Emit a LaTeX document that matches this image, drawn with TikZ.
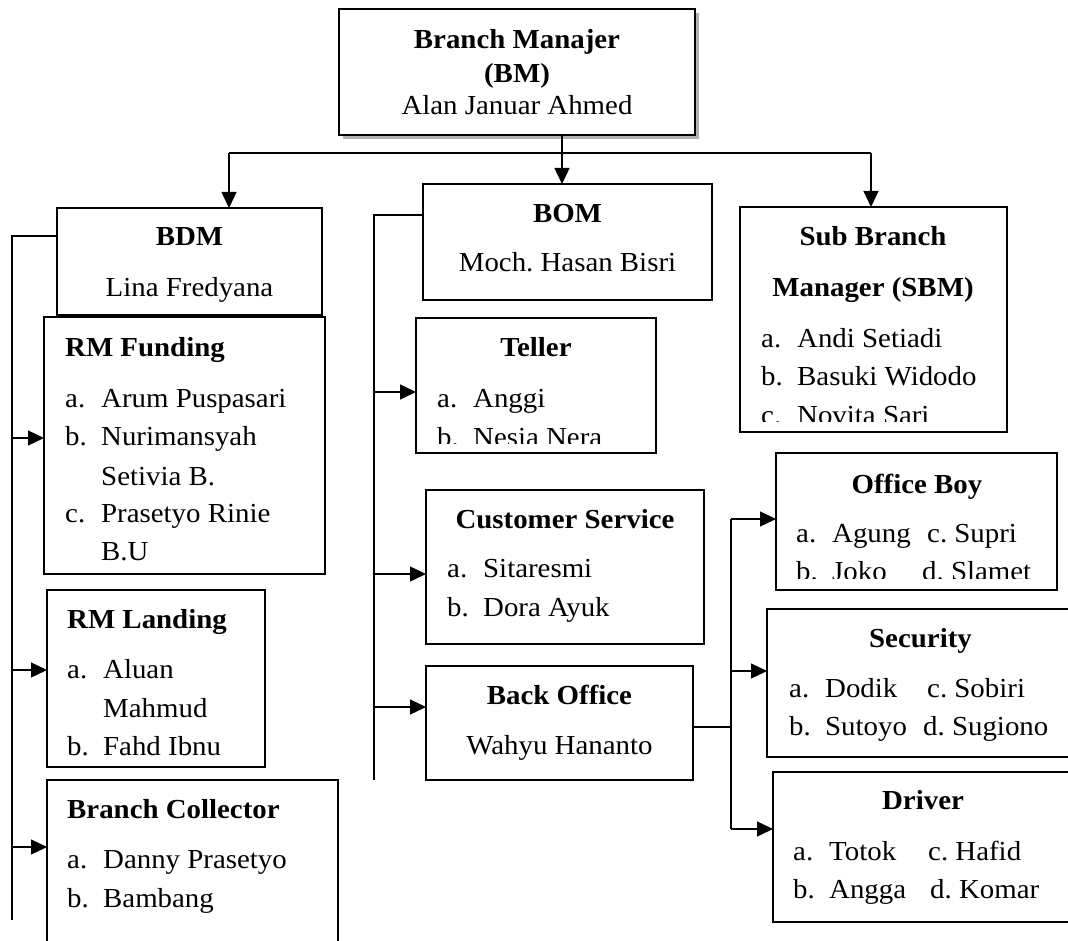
\documentclass[tikz,border=0pt]{standalone}
\usepackage{fontspec}
\setmainfont{Liberation Serif}[FakeStretch=1.05]
\usetikzlibrary{arrows.meta,shadows}
\newcommand{\lab}[1]{\makebox[36pt][l]{#1}}
\frenchspacing
\tikzset{
  box/.style={draw, line width=1.3pt, fill=white, anchor=north west, inner sep=0pt, outer sep=0pt},
  conn/.style={line width=1.3pt},
  arr/.style={line width=1.3pt, -{Triangle[length=16pt,width=15pt]}},
  ttl/.style={anchor=base, inner sep=0pt, font=\fontsize{27.5}{33}\selectfont\bfseries},
  tl/.style={anchor=base west, inner sep=0pt, font=\fontsize{27.5}{33}\selectfont\bfseries},
  tx/.style={anchor=base west, inner sep=0pt, font=\fontsize{27.5}{33}\selectfont},
  txc/.style={anchor=base, inner sep=0pt, font=\fontsize{27.5}{33}\selectfont},
}
\begin{document}
\begin{tikzpicture}[x=1pt,y=-1pt]
\useasboundingbox (0,0) rectangle (1068,941);
% boxes
\node[box, minimum width=356pt, minimum height=126pt,
      drop shadow={shadow xshift=4pt, shadow yshift=-4pt, fill=gray!60, opacity=1}] (bm) at (339,9) {};
\node[box, minimum width=265pt, minimum height=107pt] (bdm) at (57,208) {};
\node[box, minimum width=281pt, minimum height=257pt] (rmf) at (44,317) {};
\node[box, minimum width=218pt, minimum height=177pt] (rml) at (47,590) {};
\node[box, minimum width=291pt, minimum height=185pt] (bc) at (47,780) {};
\node[box, minimum width=289pt, minimum height=116pt] (bom) at (423,184) {};
\node[box, minimum width=240pt, minimum height=135pt] (tel) at (416,318) {};
\node[box, minimum width=267pt, minimum height=225pt] (sbm) at (740,207) {};
\node[box, minimum width=278pt, minimum height=154pt] (cs) at (426,490) {};
\node[box, minimum width=267pt, minimum height=114pt] (bo) at (426,666) {};
\node[box, minimum width=281pt, minimum height=137pt] (ob) at (776,453) {};
\node[box, minimum width=307pt, minimum height=148pt] (sec) at (767,609) {};
\node[box, minimum width=300pt, minimum height=150pt] (drv) at (773,772) {};

% texts
\node[ttl] (bm1) at (517,49) {Branch Manajer};
\node[ttl] (bm2) at (517,83) {(BM)};
\node[txc] (bm3) at (517,115) {Alan Januar Ahmed};

\node[ttl] (bd1) at (189.5,246) {BDM};
\node[txc] (bd2) at (189.5,297) {Lina Fredyana};

\node[tl] (rf0) at (65,356) {RM Funding};
\node[tx] (rf1) at (65,407) {\lab{a.}Arum Puspasari};
\node[tx] (rf2) at (65,445) {\lab{b.}Nurimansyah};
\node[tx] (rf3) at (101,485) {Setivia B.};
\node[tx] (rf4) at (65,522) {\lab{c.}Prasetyo Rinie};
\node[tx] (rf5) at (101,560) {B.U};

\node[tl] (rl0) at (67,628) {RM Landing};
\node[tx] (rl1) at (67,678) {\lab{a.}Aluan};
\node[tx] (rl2) at (103,717) {Mahmud};
\node[tx] (rl3) at (67,755) {\lab{b.}Fahd Ibnu};

\node[tl] (bc0) at (67,818) {Branch Collector};
\node[tx] (bc1) at (67,868) {\lab{a.}Danny Prasetyo};
\node[tx] (bc2) at (67,907) {\lab{b.}Bambang};

\node[ttl] (bo1) at (567.5,223) {BOM};
\node[txc] (bo2) at (567.5,272) {Moch. Hasan Bisri};

\node[ttl] (te0) at (536,356) {Teller};
\node[tx] (te1) at (437,407) {\lab{a.}Anggi};
\begin{scope}
\clip (416,410) rectangle (656,443);
\node[tx] (te2) at (437,446) {\lab{b.}Nesia Nera};
\end{scope}

\node[ttl] (sb0) at (873,246) {Sub Branch};
\node[ttl] (sb1) at (873,297) {Manager (SBM)};
\node[tx] (sb2) at (761,347) {\lab{a.}Andi Setiadi};
\node[tx] (sb3) at (761,385) {\lab{b.}Basuki Widodo};
\begin{scope}
\clip (740,390) rectangle (1007,421);
\node[tx] (sb4) at (761,424) {\lab{c.}Novita Sari};
\end{scope}

\node[ttl] (cs0) at (565,528) {Customer Service};
\node[tx] (cs1) at (447,577) {\lab{a.}Sitaresmi};
\node[tx] (cs2) at (447,616) {\lab{b.}Dora Ayuk};

\node[ttl] (bk0) at (559.5,704) {Back Office};
\node[txc] (bk1) at (559.5,754) {Wahyu Hananto};

\node[ttl] (ob0) at (917,493) {Office Boy};
\node[tx] (ob1) at (796,542) {\lab{a.}Agung};
\node[tx] (ob2) at (927,542) {c. Supri};
\begin{scope}
\clip (776,548) rectangle (1057,578);
\node[tx] (ob3) at (796,580) {\lab{b.}Joko};
\node[tx] (ob4) at (922,580) {d. Slamet};
\end{scope}

\node[ttl] (se0) at (920.5,647) {Security};
\node[tx] (se1) at (789,697) {\lab{a.}Dodik};
\node[tx] (se2) at (927,697) {c. Sobiri};
\node[tx] (se3) at (789,735) {\lab{b.}Sutoyo};
\node[tx] (se4) at (923,735) {d. Sugiono};

\node[ttl] (dr0) at (923,809) {Driver};
\node[tx] (dr1) at (793,860) {\lab{a.}Totok};
\node[tx] (dr2) at (928,860) {c. Hafid};
\node[tx] (dr3) at (793,898) {\lab{b.}Angga};
\node[tx] (dr4) at (930,898) {d. Komar};

% connectors top
\coordinate (cx) at (562,153);
\coordinate (lx) at (229,153);
\coordinate (rx) at (871,153);
\draw[conn] (bm.south -| cx) -- (cx);
\draw[conn] (lx) -- (rx);
\draw[arr] (lx) -- (lx |- bdm.north);
\draw[arr] (cx) -- (cx |- bom.north);
\draw[arr] (rx) -- (rx |- sbm.north);

% BDM branch
\coordinate (l1) at (12,236);
\coordinate (l1b) at (12,920);
\draw[conn] (bdm.west |- l1) -- (l1) -- (l1b);
\coordinate (a1) at (12,438);
\coordinate (a2) at (12,670);
\coordinate (a3) at (12,847);
\draw[arr] (a1) -- (a1 -| rmf.west);
\draw[arr] (a2) -- (a2 -| rml.west);
\draw[arr] (a3) -- (a3 -| bc.west);

% BOM branch
\coordinate (m1) at (374,215);
\coordinate (m1b) at (374,780);
\draw[conn] (bom.west |- m1) -- (m1) -- (m1b);
\coordinate (b1) at (374,392);
\coordinate (b2) at (374,574);
\coordinate (b3) at (374,707);
\draw[arr] (b1) -- (b1 -| tel.west);
\draw[arr] (b2) -- (b2 -| cs.west);
\draw[arr] (b3) -- (b3 -| bo.west);

% Back office branch
\coordinate (r1) at (731,727);
\coordinate (rt) at (731,519);
\coordinate (rm) at (731,671);
\coordinate (rb) at (731,829);
\draw[conn] (bo.east |- r1) -- (r1);
\draw[conn] (rt) -- (rb);
\draw[arr] (rt) -- (rt -| ob.west);
\draw[arr] (rm) -- (rm -| sec.west);
\draw[arr] (rb) -- (rb -| drv.west);
\end{tikzpicture}
\end{document}
